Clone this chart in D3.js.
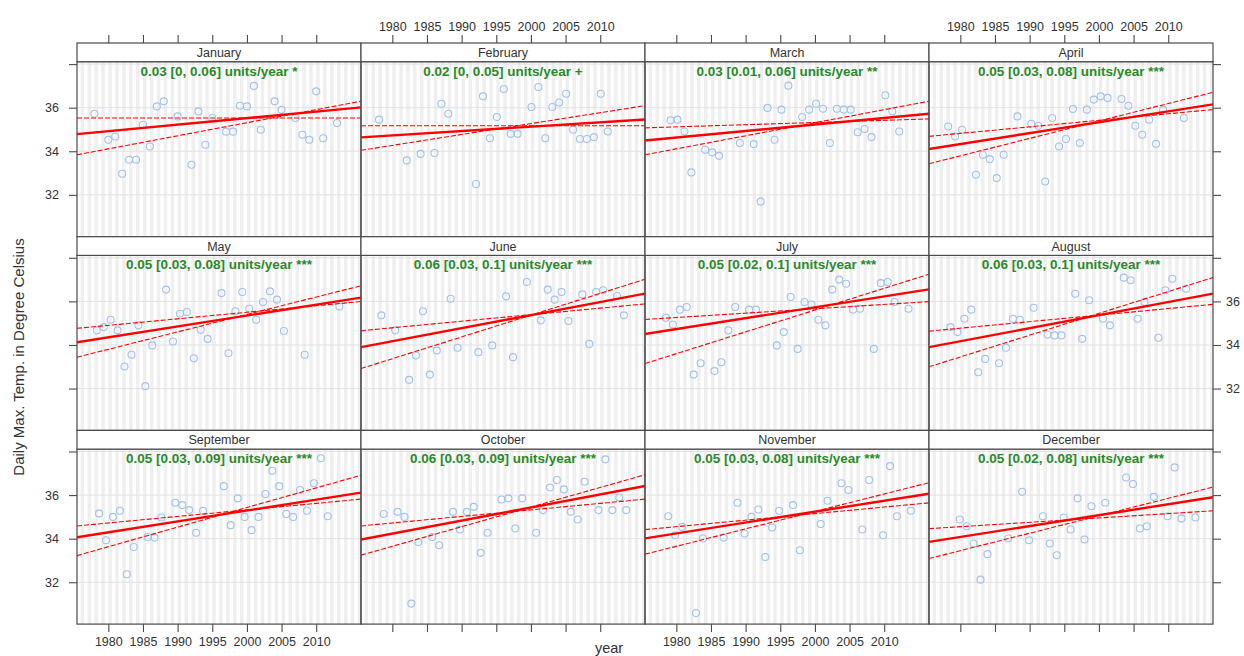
<!DOCTYPE html>
<html>
<head>
<meta charset="utf-8">
<script src="https://cdn.jsdelivr.net/npm/d3@7"></script>
<style>
  body { margin: 0; background: #fff; }
  svg { display: block; }
</style>
</head>
<body>
<svg id="chart" width="1244" height="656"></svg>
<script>
// Monthly panels: daily maximum temperature by year, with Theil-Sen trend and CI
const monthNames = ["January","February","March","April","May","June",
                    "July","August","September","October","November","December"];

const janYears = [1978,1980,1981,1982,1983,1984,1985,1986,1987,1988,1990,1992,1993,1994,1995,1997,1998,1999,2000,2001,2002,2004,2005,2007,2008,2009,2010,2011,2013];
const janTmax  = [35.72,34.53,34.68,32.97,33.61,33.61,35.22,34.22,36.06,36.29,35.6,33.38,35.83,34.3,35.53,34.9,34.9,36.09,36.06,37.0,34.99,36.29,35.9,35.53,34.76,34.53,36.75,34.6,35.3];

const febYears = [1978,1982,1984,1986,1987,1988,1992,1993,1994,1995,1996,1997,1998,2000,2001,2002,2003,2004,2005,2006,2007,2008,2009,2010,2011];
const febTmax  = [35.45,33.58,33.88,33.92,36.18,35.72,32.5,36.52,34.6,35.57,36.86,34.8,34.8,36.03,36.95,34.6,36.03,36.24,36.64,34.99,34.56,34.56,34.65,36.64,34.91];

const marYears = [1979,1980,1981,1982,1984,1985,1986,1989,1991,1992,1993,1994,1995,1996,1998,1999,2000,2001,2002,2003,2004,2005,2006,2007,2008,2010,2011,2012];
const marTmax  = [35.42,35.45,34.91,33.03,34.07,33.95,33.79,34.38,34.33,31.69,35.99,34.53,35.91,37.01,35.57,35.91,36.18,35.95,34.38,35.95,35.91,35.91,34.87,35.02,34.65,36.57,35.83,34.91];

const aprYears = [1978,1979,1980,1982,1983,1984,1985,1986,1988,1990,1991,1992,1993,1994,1995,1996,1997,1998,1999,2000,2001,2003,2004,2005,2006,2007,2008,2009,2012];
const aprTmax  = [35.14,34.68,34.99,32.92,33.84,33.64,32.77,33.84,35.6,35.26,35.17,32.61,35.53,34.22,34.56,35.94,34.38,35.91,36.37,36.52,36.45,36.4,36.09,35.17,34.76,35.45,34.34,35.9,35.53];

const mayYears = [1978,1979,1980,1981,1982,1983,1984,1985,1986,1988,1989,1990,1991,1992,1993,1994,1996,1997,1998,1999,2000,2001,2002,2003,2004,2005,2008,2013];
const mayTmax  = [34.67,34.82,35.16,34.67,33.01,33.55,34.9,32.11,33.98,36.54,34.16,35.43,35.51,33.39,34.7,34.28,36.38,33.62,35.55,36.43,35.66,35.16,35.97,36.46,36.08,34.64,33.55,35.77];

const junYears = [1978,1980,1982,1983,1984,1985,1986,1988,1989,1992,1994,1996,1997,1999,2001,2002,2003,2004,2005,2007,2008,2009,2010,2012,2013];
const junTmax  = [35.36,34.67,32.4,33.52,35.55,32.64,33.75,36.12,33.87,33.67,33.98,36.23,33.44,36.89,35.13,36.54,36.08,36.43,35.1,36.32,34.05,36.43,36.51,36.25,35.36];

const julYears = [1978,1979,1980,1981,1982,1983,1985,1986,1987,1988,1990,1991,1994,1995,1996,1997,1998,1999,2000,2001,2002,2003,2004,2005,2006,2008,2009,2010,2011,2013];
const julTmax  = [35.25,34.94,35.62,35.74,32.64,33.16,32.8,33.21,34.67,35.74,35.62,35.62,33.98,34.59,36.2,33.82,35.97,35.86,35.16,34.9,36.54,37.0,36.81,35.62,35.66,33.82,36.84,36.89,35.97,35.66];

const augYears = [1978,1979,1980,1981,1982,1983,1985,1986,1987,1988,1990,1992,1993,1994,1996,1997,1998,2000,2001,2003,2004,2005,2006,2008,2009,2010,2012];
const augTmax  = [34.82,34.59,35.2,35.62,32.75,33.36,33.16,33.87,35.2,35.16,35.71,34.48,34.44,34.44,36.35,34.28,36.05,35.2,34.9,37.09,36.97,35.2,35.97,34.33,36.51,37.04,36.58];

const sepYears = [1978,1979,1980,1981,1982,1983,1985,1986,1987,1989,1990,1991,1992,1993,1996,1997,1998,1999,2000,2001,2002,2003,2004,2005,2006,2007,2008,2009,2010,2011];
const sepTmax  = [35.16,33.93,35.0,35.28,32.37,33.62,34.08,34.05,34.97,35.65,35.54,35.31,34.27,35.28,36.41,34.62,35.85,35.0,34.39,35.0,36.05,37.12,36.41,35.13,35.0,36.23,35.28,36.54,37.69,35.03];

const octYears = [1978,1980,1981,1982,1983,1985,1986,1988,1989,1990,1991,1992,1993,1995,1996,1997,1998,2000,2001,2002,2003,2004,2005,2006,2007,2009,2010,2011,2012,2013];
const octTmax  = [35.13,35.23,35.0,31.02,33.85,34.08,33.7,35.23,34.42,35.23,35.46,33.35,34.27,35.8,35.85,34.47,35.85,34.27,35.31,36.35,36.69,36.26,35.23,34.88,36.61,35.31,37.64,35.31,35.89,35.31];

const novYears = [1978,1979,1980,1982,1983,1986,1988,1989,1990,1991,1992,1993,1994,1996,1997,2000,2001,2003,2004,2006,2007,2009,2010,2011,2013];
const novTmax  = [35.03,34.16,34.54,30.59,34.01,34.05,35.65,34.24,35.0,35.34,33.16,34.51,35.28,35.54,33.47,34.67,35.74,36.54,36.23,34.42,36.69,34.16,37.33,35.03,35.28];

const decYears = [1979,1980,1981,1982,1983,1986,1988,1989,1991,1992,1993,1994,1995,1996,1997,1998,2000,2003,2004,2005,2006,2007,2009,2010,2011,2013];
const decTmax  = [34.88,34.57,33.78,32.12,33.29,34.01,36.15,33.93,35.03,33.78,33.24,34.97,34.42,35.85,33.96,35.49,35.65,36.81,36.51,34.47,34.57,35.92,35.03,37.27,34.93,34.97];

// Theil-Sen slope (units/year) with 95% interval, and each line's level at the reference year
const refYear    = 1996;
const slope      = [0.03, 0.02, 0.03, 0.05, 0.05, 0.06, 0.05, 0.06, 0.05, 0.06, 0.05, 0.05];
const slopeLower = [0,    0,    0.01, 0.03, 0.03, 0.03, 0.02, 0.03, 0.03, 0.03, 0.03, 0.02];
const slopeUpper = [0.06, 0.05, 0.06, 0.08, 0.08, 0.1,  0.1,  0.1,  0.09, 0.09, 0.08, 0.08];
const levelMid   = [35.40, 35.05, 35.11, 35.13, 35.15, 35.13, 35.53, 35.13, 35.09, 35.19, 35.04, 34.88];
const levelLower = [35.53, 35.17, 35.28, 35.30, 35.38, 35.27, 35.58, 35.25, 35.20, 35.20, 35.03, 34.87];
const levelUpper = [35.07, 35.07, 35.07, 35.07, 35.08, 34.97, 35.20, 35.05, 35.07, 35.09, 34.93, 34.73];
const signif     = ["*", "+", "**", "***", "***", "***", "***", "***", "***", "***", "***", "***"];

const yTicks = [32, 34, 36, 38];
const yTickLabels = [32, 34, 36];
const xTicks = [1980, 1985, 1990, 1995, 2000, 2005, 2010];

const yearsByMonth = [janYears, febYears, marYears, aprYears, mayYears, junYears,
                      julYears, augYears, sepYears, octYears, novYears, decYears];
const tmaxByMonth  = [janTmax, febTmax, marTmax, aprTmax, mayTmax, junTmax,
                      julTmax, augTmax, sepTmax, octTmax, novTmax, decTmax];

// ---- layout ----
const svg = d3.select("#chart");
const nCol = 4, nRow = 3;
const left0 = 77, panelW = 284;
const top0 = 43, rowStep = 193.7, stripH = 18.7, panelH = rowStep - stripH;
const tickLen = 8;
const frame = "#4a4a4a";
const txt = "#333";
const font = "'Liberation Sans', Arial, sans-serif";

const xDomain = [1975.48, 2016.46];
const yDomain = [30.08, 38.11];

const defs = svg.append("defs");

for (let m = 0; m < 12; m++) {
  const col = m % nCol, row = Math.floor(m / nCol);
  const px = left0 + col * panelW;
  const stripTop = top0 + row * rowStep;
  const py = stripTop + stripH;

  const x = d3.scaleLinear().domain(xDomain).range([px, px + panelW]);
  const y = d3.scaleLinear().domain(yDomain).range([py + panelH, py]);

  const clipId = "clip" + m;
  defs.append("clipPath").attr("id", clipId)
    .append("rect").attr("x", px).attr("y", py).attr("width", panelW).attr("height", panelH);

  const g = svg.append("g");
  const body = g.append("g").attr("clip-path", `url(#${clipId})`);

  // year shading
  const shadeYears = d3.range(Math.floor(xDomain[0]), Math.ceil(xDomain[1]));
  body.selectAll("rect.shade").data(shadeYears).join("rect")
    .attr("class", "shade")
    .attr("x", d => x(d))
    .attr("y", py)
    .attr("width", d => x(d + 0.5) - x(d))
    .attr("height", panelH)
    .attr("fill", "#efefef");

  // horizontal grid
  body.selectAll("line.grid").data(yTicks).join("line")
    .attr("class", "grid")
    .attr("x1", px).attr("x2", px + panelW)
    .attr("y1", d => y(d)).attr("y2", d => y(d))
    .attr("stroke", "#e2e2e2").attr("stroke-width", 1);

  // observations
  const pts = yearsByMonth[m].map((yr, i) => ({ t: yr + m / 12, v: tmaxByMonth[m][i] }));
  body.selectAll("circle").data(pts).join("circle")
    .attr("cx", d => x(d.t))
    .attr("cy", d => y(d.v))
    .attr("r", 3.5)
    .attr("fill", "none")
    .attr("stroke", "#a2c2ec")
    .attr("stroke-width", 1.1);

  // trend line and interval lines
  const trend = [
    { s: slopeLower[m], c: levelLower[m], dash: "5,2", w: 1.1 },
    { s: slopeUpper[m], c: levelUpper[m], dash: "5,2", w: 1.1 },
    { s: slope[m],      c: levelMid[m],   dash: null,  w: 2.4 }
  ];
  body.selectAll("line.trend").data(trend).join("line")
    .attr("class", "trend")
    .attr("x1", x(xDomain[0])).attr("x2", x(xDomain[1]))
    .attr("y1", d => y(d.c + d.s * (xDomain[0] - refYear)))
    .attr("y2", d => y(d.c + d.s * (xDomain[1] - refYear)))
    .attr("stroke", "#ff0000")
    .attr("stroke-width", d => d.w)
    .attr("stroke-dasharray", d => d.dash);

  // slope annotation
  g.append("text")
    .attr("x", px + panelW / 2)
    .attr("y", py + 14)
    .attr("text-anchor", "middle")
    .attr("font-family", font)
    .attr("font-weight", "bold")
    .attr("font-size", 13.5)
    .attr("fill", "#2a8a2a")
    .text(`${slope[m]} [${slopeLower[m]}, ${slopeUpper[m]}] units/year ${signif[m]}`);

  // panel frame
  g.append("rect")
    .attr("x", px).attr("y", py).attr("width", panelW).attr("height", panelH)
    .attr("fill", "none").attr("stroke", frame).attr("stroke-width", 1.2);

  // strip
  g.append("rect")
    .attr("x", px).attr("y", stripTop).attr("width", panelW).attr("height", stripH)
    .attr("fill", "#fff").attr("stroke", frame).attr("stroke-width", 1.2);
  g.append("text")
    .attr("x", px + panelW / 2)
    .attr("y", stripTop + stripH / 2 + 4.5)
    .attr("text-anchor", "middle")
    .attr("font-family", font)
    .attr("font-size", 12.5)
    .attr("fill", txt)
    .text(monthNames[m]);

  // axes: x ticks on the outer top and bottom, y ticks on the outer left and right
  const styleAxis = sel => {
    sel.select(".domain").remove();
    sel.selectAll(".tick line").attr("stroke", frame).attr("stroke-width", 1.1);
    sel.selectAll(".tick text").attr("fill", txt).attr("font-family", font).attr("font-size", 12.5);
  };

  if (row === 0) {
    const ax = d3.axisTop(x).tickValues(xTicks).tickSize(tickLen).tickPadding(4)
      .tickFormat(col % 2 === 1 ? d3.format("d") : () => "");
    svg.append("g").attr("transform", `translate(0,${stripTop})`).call(ax).call(styleAxis);
  }
  if (row === nRow - 1) {
    const ax = d3.axisBottom(x).tickValues(xTicks).tickSize(tickLen).tickPadding(5)
      .tickFormat(col % 2 === 0 ? d3.format("d") : () => "");
    svg.append("g").attr("transform", `translate(0,${py + panelH})`).call(ax).call(styleAxis);
  }
  if (col === 0) {
    const ay = d3.axisLeft(y).tickValues(yTicks).tickSize(tickLen).tickPadding(10)
      .tickFormat(d => (row % 2 === 0 && yTickLabels.includes(d)) ? d : "");
    svg.append("g").attr("transform", `translate(${px},0)`).call(ay).call(styleAxis);
  }
  if (col === nCol - 1) {
    const ay = d3.axisRight(y).tickValues(yTicks).tickSize(tickLen).tickPadding(5)
      .tickFormat(d => (row % 2 === 1 && yTickLabels.includes(d)) ? d : "");
    svg.append("g").attr("transform", `translate(${px + panelW},0)`).call(ay).call(styleAxis);
  }
}

// axis titles
svg.append("text")
  .attr("transform", "translate(24,357) rotate(-90)")
  .attr("text-anchor", "middle")
  .attr("font-family", font)
  .attr("font-size", 15)
  .attr("fill", txt)
  .text("Daily Max. Temp. in Degree Celsius");

svg.append("text")
  .attr("x", 609)
  .attr("y", 653)
  .attr("text-anchor", "middle")
  .attr("font-family", font)
  .attr("font-size", 14.5)
  .attr("fill", txt)
  .text("year");
</script>
</body>
</html>
